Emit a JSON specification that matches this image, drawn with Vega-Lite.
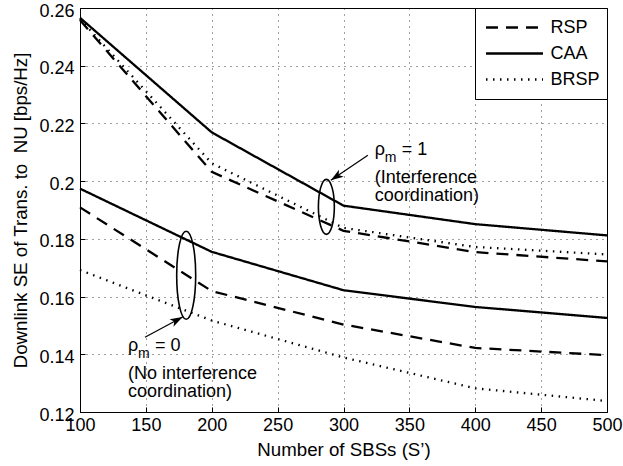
{
  "$schema": "https://vega.github.io/schema/vega-lite/v6.json",
  "width": 527,
  "height": 404,
  "autosize": {"type": "none"},
  "padding": {"left": 80, "top": 8, "right": 16, "bottom": 54},
  "config": {
    "font": "Liberation Sans",
    "view": {"stroke": "black", "strokeWidth": 1},
    "axis": {
      "labelFont": "Liberation Sans",
      "labelFontSize": 18,
      "labelColor": "black",
      "labelFlush": false,
      "labelOverlap": false,
      "titleFont": "Liberation Sans",
      "titleFontSize": 18.7,
      "titleFontWeight": "normal",
      "titleColor": "black",
      "domainColor": "black",
      "tickColor": "black",
      "tickSize": -5,
      "gridColor": "black",
      "gridDash": [1, 5],
      "gridOpacity": 0.75,
      "gridWidth": 1
    }
  },
  "datasets": {
    "se": [
      {"S": 100, "se": 0.2558, "scheme": "RSP", "rho": "1"},
      {"S": 200, "se": 0.2032, "scheme": "RSP", "rho": "1"},
      {"S": 300, "se": 0.1828, "scheme": "RSP", "rho": "1"},
      {"S": 400, "se": 0.1754, "scheme": "RSP", "rho": "1"},
      {"S": 500, "se": 0.1722, "scheme": "RSP", "rho": "1"},
      {"S": 100, "se": 0.2566, "scheme": "CAA", "rho": "1"},
      {"S": 200, "se": 0.2169, "scheme": "CAA", "rho": "1"},
      {"S": 300, "se": 0.1915, "scheme": "CAA", "rho": "1"},
      {"S": 400, "se": 0.1851, "scheme": "CAA", "rho": "1"},
      {"S": 500, "se": 0.1812, "scheme": "CAA", "rho": "1"},
      {"S": 100, "se": 0.2562, "scheme": "BRSP", "rho": "1"},
      {"S": 200, "se": 0.2062, "scheme": "BRSP", "rho": "1"},
      {"S": 300, "se": 0.1838, "scheme": "BRSP", "rho": "1"},
      {"S": 400, "se": 0.1772, "scheme": "BRSP", "rho": "1"},
      {"S": 500, "se": 0.1746, "scheme": "BRSP", "rho": "1"},
      {"S": 100, "se": 0.1909, "scheme": "RSP", "rho": "0"},
      {"S": 200, "se": 0.1619, "scheme": "RSP", "rho": "0"},
      {"S": 300, "se": 0.1503, "scheme": "RSP", "rho": "0"},
      {"S": 400, "se": 0.1422, "scheme": "RSP", "rho": "0"},
      {"S": 500, "se": 0.1397, "scheme": "RSP", "rho": "0"},
      {"S": 100, "se": 0.1974, "scheme": "CAA", "rho": "0"},
      {"S": 200, "se": 0.1755, "scheme": "CAA", "rho": "0"},
      {"S": 300, "se": 0.1622, "scheme": "CAA", "rho": "0"},
      {"S": 400, "se": 0.1564, "scheme": "CAA", "rho": "0"},
      {"S": 500, "se": 0.1526, "scheme": "CAA", "rho": "0"},
      {"S": 100, "se": 0.1692, "scheme": "BRSP", "rho": "0"},
      {"S": 200, "se": 0.1517, "scheme": "BRSP", "rho": "0"},
      {"S": 300, "se": 0.1389, "scheme": "BRSP", "rho": "0"},
      {"S": 400, "se": 0.1282, "scheme": "BRSP", "rho": "0"},
      {"S": 500, "se": 0.1238, "scheme": "BRSP", "rho": "0"}
    ],
    "rings": [
      {"group": "rho1", "x": 287.0, "y": 0.1911},
      {"group": "rho0", "x": 180.6, "y": 0.1674}
    ],
    "arrows": [
      {"group": "rho1", "x": 318.5, "y": 0.2090, "x2": 290.4, "y2": 0.2003},
      {"group": "rho0", "x": 149.3, "y": 0.1459, "x2": 177.9, "y2": 0.1529}
    ],
    "notes": [
      {"group": "rho1", "x": 323.8, "y": 0.2090, "value": "= 1", "lines": ["(Interference", "coordination)"]},
      {"group": "rho0", "x": 136.4, "y": 0.1410, "value": "= 0", "lines": ["(No interference", "coordination)"]}
    ]
  },
  "layer": [
    {
      "data": {"name": "se"},
      "mark": {"type": "line", "color": "black", "strokeWidth": 2.3},
      "encoding": {
        "x": {
          "field": "S", "type": "quantitative",
          "scale": {"domain": [100, 500], "nice": false},
          "axis": {"values": [100, 150, 200, 250, 300, 350, 400, 450, 500], "title": "Number of SBSs (S’)", "labelPadding": 9, "titlePadding": 6}
        },
        "y": {
          "field": "se", "type": "quantitative",
          "scale": {"domain": [0.12, 0.26], "zero": false, "nice": false},
          "axis": {"values": [0.12, 0.14, 0.16, 0.18, 0.2, 0.22, 0.24, 0.26], "format": "~g", "title": "Downlink SE of Trans. to \u00a0NU [bps/Hz]", "labelPadding": 11, "labelOffset": 3, "titlePadding": 8}
        },
        "strokeDash": {
          "field": "scheme", "type": "nominal",
          "scale": {"domain": ["RSP", "CAA", "BRSP"], "range": [[12, 8], [1, 0], [1.5, 5.5]]},
          "legend": {
            "title": null,
            "orient": "top-right",
            "offset": 0,
            "padding": 7,
            "strokeColor": "black",
            "fillColor": "white",
            "cornerRadius": 0,
            "labelFont": "Liberation Sans",
            "labelFontSize": 18,
            "labelColor": "black",
            "symbolType": "stroke",
            "symbolSize": 3249,
            "clipHeight": 25,
            "symbolStrokeWidth": 2.3,
            "symbolStrokeColor": "black",
            "symbolOffset": 2.5,
            "labelOffset": 6,
            "rowPadding": 1
          }
        },
        "detail": {"field": "rho"}
      }
    },
    {
      "data": {"name": "arrows"},
      "mark": {"type": "rule", "color": "black", "strokeWidth": 1.2},
      "encoding": {
        "x": {"field": "x", "type": "quantitative"},
        "y": {"field": "y", "type": "quantitative"},
        "x2": {"field": "x2"},
        "y2": {"field": "y2"}
      }
    },
    {
      "data": {"name": "arrows"},
      "transform": [{"filter": "datum.group === 'rho1'"}],
      "mark": {"type": "point", "filled": true, "color": "black", "opacity": 1, "shape": "M0,0L-0.4,1.2L0,0.9L0.4,1.2Z", "size": 441, "angle": 236},
      "encoding": {
        "x": {"field": "x2", "type": "quantitative"},
        "y": {"field": "y2", "type": "quantitative"}
      }
    },
    {
      "data": {"name": "arrows"},
      "transform": [{"filter": "datum.group === 'rho0'"}],
      "mark": {"type": "point", "filled": true, "color": "black", "opacity": 1, "shape": "M0,0L-0.4,1.2L0,0.9L0.4,1.2Z", "size": 441, "angle": 62},
      "encoding": {
        "x": {"field": "x2", "type": "quantitative"},
        "y": {"field": "y2", "type": "quantitative"}
      }
    },
    {
      "data": {"name": "rings"},
      "transform": [{"filter": "datum.group === 'rho1'"}],
      "mark": {"type": "point", "filled": false, "color": "black", "opacity": 1, "strokeWidth": 1.6, "shape": "M0,-1A0.29,1 0 1,1 0,1A0.29,1 0 1,1 0,-1Z", "size": 3025},
      "encoding": {
        "x": {"field": "x", "type": "quantitative"},
        "y": {"field": "y", "type": "quantitative"}
      }
    },
    {
      "data": {"name": "rings"},
      "transform": [{"filter": "datum.group === 'rho0'"}],
      "mark": {"type": "point", "filled": false, "color": "black", "opacity": 1, "strokeWidth": 1.6, "shape": "M0,-1A0.216,1 0 1,1 0,1A0.216,1 0 1,1 0,-1Z", "size": 7744},
      "encoding": {
        "x": {"field": "x", "type": "quantitative"},
        "y": {"field": "y", "type": "quantitative"}
      }
    },
    {
      "data": {"name": "notes"},
      "mark": {"type": "text", "font": "Liberation Sans", "fontSize": 18, "align": "left", "baseline": "alphabetic", "color": "black", "text": "ρ"},
      "encoding": {
        "x": {"field": "x", "type": "quantitative"},
        "y": {"field": "y", "type": "quantitative"}
      }
    },
    {
      "data": {"name": "notes"},
      "mark": {"type": "text", "font": "Liberation Sans", "fontSize": 14, "align": "left", "baseline": "alphabetic", "color": "black", "text": "m", "dx": 10, "dy": 7},
      "encoding": {
        "x": {"field": "x", "type": "quantitative"},
        "y": {"field": "y", "type": "quantitative"}
      }
    },
    {
      "data": {"name": "notes"},
      "mark": {"type": "text", "font": "Liberation Sans", "fontSize": 18, "align": "left", "baseline": "alphabetic", "color": "black", "dx": 27},
      "encoding": {
        "x": {"field": "x", "type": "quantitative"},
        "y": {"field": "y", "type": "quantitative"},
        "text": {"field": "value"}
      }
    },
    {
      "data": {"name": "notes"},
      "mark": {"type": "text", "font": "Liberation Sans", "fontSize": 18, "align": "left", "baseline": "alphabetic", "color": "black", "dy": 28, "lineHeight": 18},
      "encoding": {
        "x": {"field": "x", "type": "quantitative"},
        "y": {"field": "y", "type": "quantitative"},
        "text": {"field": "lines"}
      }
    }
  ]
}
